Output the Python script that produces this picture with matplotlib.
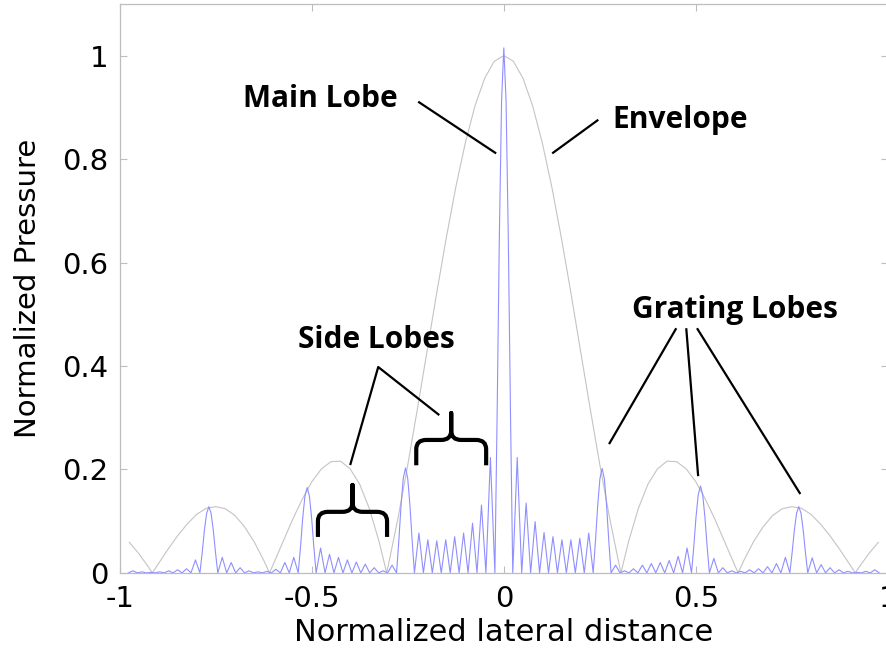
import matplotlib
matplotlib.use("Agg")
import matplotlib.pyplot as plt
import numpy as np
from matplotlib.path import Path
from matplotlib.patches import PathPatch

# array geometry: 11 elements, grating lobes every 0.256
n_elem = 11
lobe_spacing = 0.256
lobe_x = [-0.768, -0.512, -0.256, 0.0, 0.256, 0.512, 0.768]
lobe_peak = [0.128, 0.165, 0.203, 1.015, 0.202, 0.168, 0.128]

# side lobe peaks between neighbouring lobes (left to right)
tail_left = [0.003, 0.004, 0.002, 0.001, 0.002, 0.004, 0.006, 0.008, 0.025]
gap_1 = [0.030, 0.020, 0.010, 0.004, 0.002, 0.003, 0.007, 0.020, 0.030]
gap_2 = [0.048, 0.036, 0.030, 0.025, 0.021, 0.017, 0.010, 0.004, 0.015]
gap_3 = [0.077, 0.064, 0.062, 0.064, 0.070, 0.077, 0.096, 0.131, 0.223]
gap_4 = [0.223, 0.135, 0.099, 0.078, 0.070, 0.064, 0.064, 0.067, 0.077]
gap_5 = [0.015, 0.004, 0.008, 0.015, 0.018, 0.020, 0.024, 0.032, 0.048]
gap_6 = [0.028, 0.010, 0.004, 0.003, 0.006, 0.008, 0.012, 0.018, 0.030]
tail_right = [0.029, 0.016, 0.010, 0.006, 0.003, 0.001, 0.003, 0.006, 0.008]

# relative profile of a main/grating lobe, sampled at quarter null widths
lobe_offsets = [-1.0, -0.75, -0.5, -0.25, 0.0, 0.25, 0.5, 0.75, 1.0]
lobe_shape = [0.0, 0.30, 0.64, 0.90, 1.0, 0.90, 0.64, 0.30, 0.0]

# element envelope (|sinc|), right half; the left half is its mirror image
env_x_half = [0.0, 0.025, 0.05, 0.075, 0.1, 0.125, 0.15, 0.175, 0.2, 0.225,
              0.25, 0.275, 0.3, 0.305, 0.325, 0.35, 0.375, 0.4, 0.425, 0.45,
              0.475, 0.5, 0.525, 0.55, 0.575, 0.6, 0.61, 0.625, 0.65, 0.675,
              0.7, 0.725, 0.75, 0.775, 0.8, 0.825, 0.85, 0.875, 0.9, 0.915,
              0.925, 0.95, 0.975]
env_half = [1.000, 0.989, 0.956, 0.903, 0.832, 0.746, 0.647, 0.540, 0.428, 0.317,
            0.209, 0.108, 0.017, 0.0, 0.061, 0.124, 0.171, 0.201, 0.216, 0.215,
            0.201, 0.176, 0.142, 0.103, 0.060, 0.017, 0.0, 0.024, 0.060, 0.089,
            0.111, 0.124, 0.128, 0.125, 0.113, 0.094, 0.071, 0.045, 0.017, 0.0,
            0.011, 0.037, 0.059]

x_ticks = [-1, -0.5, 0, 0.5, 1]
x_tick_labels = ["-1", "-0.5", "0", "0.5", "1"]
y_ticks = [0, 0.2, 0.4, 0.6, 0.8, 1]
y_tick_labels = ["0", "0.2", "0.4", "0.6", "0.8", "1"]

# build pressure trace: lobes joined by side lobes (null - peak - null)
dx = lobe_spacing / n_elem
gaps = [tail_left, gap_1, gap_2, gap_3, gap_4, gap_5, gap_6, tail_right]
xs, ys = [], []


def add_gap(c, peaks):
    for j, p in enumerate(peaks):
        xs.extend([c + (j + 1) * dx, c + (j + 1.5) * dx])
        ys.extend([0.0, p])
    xs.append(c + (len(peaks) + 1) * dx)
    ys.append(0.0)


add_gap(lobe_x[0] - lobe_spacing, gaps[0])
for i, c in enumerate(lobe_x):
    for o, s in zip(lobe_offsets, lobe_shape):
        xs.append(c + o * dx)
        ys.append(lobe_peak[i] * s)
    add_gap(c, gaps[i + 1])
xs = np.array(xs)
ys = np.array(ys)
keep = np.abs(xs) <= 0.978
xs, ys = xs[keep], ys[keep]

env_x = np.concatenate([-np.array(env_x_half[:0:-1]), env_x_half])
env_y = np.concatenate([env_half[:0:-1], env_half])

fig = plt.figure(figsize=(8.87, 6.51), dpi=100)
ax = fig.add_axes([0.135, 0.12, 0.866, 0.874])

ax.plot(env_x, env_y, color="#c4c4c4", linewidth=0.8, zorder=1)
ax.plot(xs, ys, color="#8f8fff", linewidth=0.8, zorder=2)

ax.set_xlim(-1, 1)
ax.set_ylim(0, 1.1)
ax.set_xticks(x_ticks)
ax.set_xticklabels(x_tick_labels)
ax.set_yticks(y_ticks)
ax.set_yticklabels(y_tick_labels)
for s in ax.spines.values():
    s.set_color("#bdbdbd")
    s.set_linewidth(0.9)
ax.tick_params(direction="in", length=5, width=0.8, color="#bdbdbd",
               labelsize=21, top=True, right=True)
ax.tick_params(axis="x", pad=9)
ax.tick_params(axis="y", pad=8)
ax.set_xlabel("Normalized lateral distance", fontsize=22, labelpad=3)
ax.set_ylabel("Normalized Pressure", fontsize=21, labelpad=15)

# annotations
tfont = dict(family="Open Sans", weight="bold", fontsize=21.5, ha="center", va="center")
ax.text(-0.478, 0.917, "Main Lobe", **tfont)
ax.text(0.459, 0.875, "Envelope", **tfont)
ax.text(-0.333, 0.450, "Side Lobes", **tfont)
ax.text(0.602, 0.508, "Grating Lobes", **tfont)

lk = dict(color="black", linewidth=1.6, zorder=4, solid_capstyle="butt")
ax.plot([-0.223, -0.020], [0.911, 0.811], **lk)
ax.plot([0.246, 0.126], [0.876, 0.811], **lk)
ax.plot([-0.400, -0.327, -0.168], [0.2085, 0.398, 0.305], **lk)
ax.plot([0.449, 0.274], [0.473, 0.249], **lk)
ax.plot([0.475, 0.506], [0.473, 0.187], **lk)
ax.plot([0.503, 0.772], [0.473, 0.1525], **lk)


def brace(x0, x1, yb, ybar, ytip, rx=0.026, ry=0.018):
    xc = (x0 + x1) / 2
    verts = [(x0, yb), (x0, ybar - ry), (x0, ybar), (x0 + rx, ybar),
             (xc - rx, ybar), (xc, ybar), (xc, ybar + ry), (xc, ytip),
             (xc, ybar + ry), (xc, ybar), (xc + rx, ybar),
             (x1 - rx, ybar), (x1, ybar), (x1, ybar - ry), (x1, yb)]
    codes = [Path.MOVETO, Path.LINETO, Path.CURVE3, Path.CURVE3,
             Path.LINETO, Path.CURVE3, Path.CURVE3, Path.LINETO,
             Path.LINETO, Path.CURVE3, Path.CURVE3,
             Path.LINETO, Path.CURVE3, Path.CURVE3, Path.LINETO]
    ax.add_patch(PathPatch(Path(verts, codes), fill=False, edgecolor="black",
                           linewidth=3.0, capstyle="butt", joinstyle="round", zorder=4))


brace(-0.484, -0.304, 0.0695, 0.118, 0.170)
brace(-0.228, -0.046, 0.208, 0.257, 0.309)

fig.savefig("out.png", dpi=100)
